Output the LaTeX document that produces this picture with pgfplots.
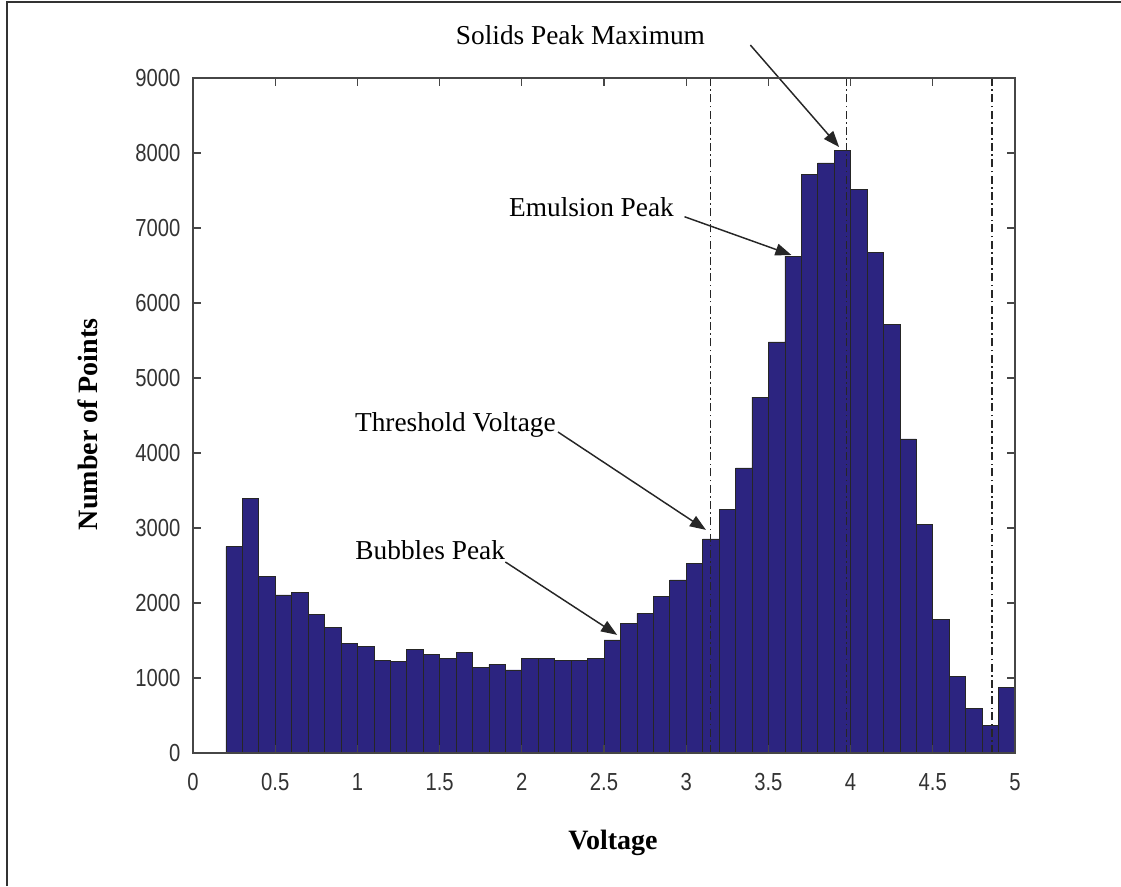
\documentclass[border=0pt]{standalone}
\usepackage{fontspec}
\usepackage{pgfplots}
\usepackage{pgfplotstable}
\pgfplotsset{compat=1.18}
\usetikzlibrary{arrows.meta}
\setmainfont{Liberation Serif}
\newfontfamily\tickfont[FakeStretch=0.82]{Liberation Sans}
\definecolor{barblue}{RGB}{44,36,128}
\definecolor{axgray}{RGB}{70,70,70}

% histogram: left bin edge (V) and count; last row closes the final bin
\pgfplotstableread{
x y
0.2 2751
0.3 3390
0.4 2351
0.5 2107
0.6 2138
0.7 1853
0.8 1671
0.9 1462
1.0 1418
1.1 1231
1.2 1218
1.3 1382
1.4 1320
1.5 1258
1.6 1342
1.7 1142
1.8 1182
1.9 1107
2.0 1258
2.1 1258
2.2 1231
2.3 1240
2.4 1258
2.5 1507
2.6 1730
2.7 1862
2.8 2084
2.9 2307
3.0 2525
3.1 2855
3.2 3252
3.3 3802
3.4 4745
3.5 5480
3.6 6624
3.7 7714
3.8 7867
3.9 8033
4.0 7512
4.1 6673
4.2 5712
4.3 4188
4.4 3049
4.5 1776
4.6 1022
4.7 594
4.8 367
4.9 876
5.0 876
}\hist

\begin{document}
\begin{tikzpicture}[x=0.75pt,y=0.75pt]
\useasboundingbox (0,0) rectangle (1121,886);
\draw[line width=1.2pt, black!80] (7,0) -- (7,884) -- (1121,884);
\begin{axis}[
  at={(144.75pt,99.75pt)}, anchor=south west,
  width=616.5pt, height=506.25pt, scale only axis,
  xmin=0, xmax=5, ymin=0, ymax=9000,
  xtick={0,0.5,1,1.5,2,2.5,3,3.5,4,4.5,5},
  ytick={0,1000,2000,3000,4000,5000,6000,7000,8000,9000},
  tick align=inside, major tick length=6pt,
  axis on top,
  axis line style={axgray, line width=1.1pt},
  every tick/.style={axgray, line width=0.8pt},
  scaled y ticks=false,
  /pgf/number format/assume math mode=true,
  /pgf/number format/1000 sep={},
  ticklabel style={font=\tickfont\fontsize{18.5}{21}\selectfont, text=black!80},
  xticklabel style={yshift=-12pt},
  yticklabel style={xshift=-6pt},
  xlabel={Voltage}, ylabel={Number of Points},
  label style={font=\bfseries\fontsize{21}{24}\selectfont},
  x label style={at={(axis description cs:0.511,-0.133)}, anchor=center},
  y label style={at={(axis description cs:-0.128,0.487)}, anchor=center},
  clip=false,
]
\addplot[ybar interval, fill=barblue, draw=black!85, line width=0.5pt] table[x=x, y=y] {\hist};

% reference lines
\draw[black!85, line width=0.8pt, dash pattern=on 6pt off 2.5pt on 1.2pt off 2.5pt]
  (axis cs:3.15,0) -- (axis cs:3.15,9000);
\draw[black!85, line width=0.8pt, dash pattern=on 6pt off 2.5pt on 1.2pt off 2.5pt]
  (axis cs:3.975,0) -- (axis cs:3.975,9000);
\draw[black!85, line width=0.8pt, dash pattern=on 6pt off 2.5pt on 1.2pt off 2.5pt]
  (axis cs:4.86,0) -- (axis cs:4.86,9000);

% annotations
\tikzset{callout/.style={black!85, line width=1.1pt, -{Triangle[length=12pt,width=9pt]}},
         calltext/.style={font=\fontsize{20.5}{24}\selectfont, inner sep=1pt}}
\node[calltext] at (axis cs:2.357,9573) {Solids Peak Maximum};
\draw[callout] (axis cs:3.39,9440) -- (axis cs:3.93,8080);
\node[calltext] at (axis cs:2.424,7280) {Emulsion Peak};
\draw[callout] (axis cs:2.99,7150) -- (axis cs:3.64,6640);
\node[calltext] at (axis cs:1.596,4373) {Threshold Voltage};
\draw[callout] (axis cs:2.22,4280) -- (axis cs:3.12,2975);
\node[calltext] at (axis cs:1.443,2707) {Bubbles Peak};
\draw[callout] (axis cs:1.90,2547) -- (axis cs:2.58,1575);
\end{axis}
\end{tikzpicture}
\end{document}
